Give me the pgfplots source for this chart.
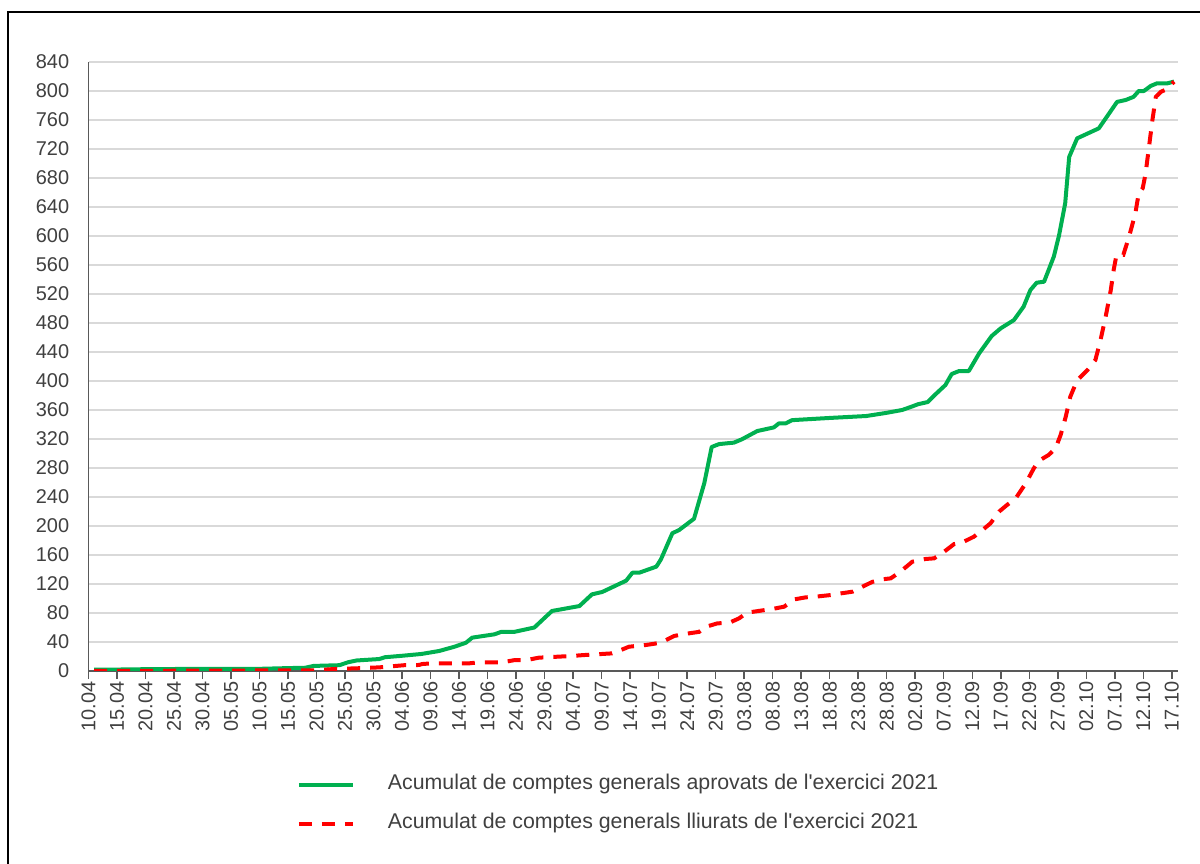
\documentclass[border=0pt]{standalone}
\usepackage{fontspec}
\setmainfont{Liberation Sans}
\usepackage{pgfplots}
\pgfplotsset{compat=1.18}

\definecolor{verd}{RGB}{0,176,80}
\definecolor{vermell}{RGB}{255,0,0}
\definecolor{graella}{RGB}{217,217,217}
\definecolor{eix}{RGB}{89,89,89}
\definecolor{textgris}{RGB}{64,64,64}

\begin{document}
\begin{tikzpicture}
\useasboundingbox (0,0) rectangle (600bp,432bp);
% marc de la figura
\draw[black, line width=1bp] (4bp,0) -- (4bp,426bp) -- (600bp,426bp);

\begin{axis}[
    at={(44.25bp,96.5bp)}, anchor=south west,
    scale only axis,
    width=544.5bp, height=304.5bp,
    xmin=0, xmax=191,
    ymin=0, ymax=840,
    xtick={0,5,...,190},
    xticklabels={10.04,15.04,20.04,25.04,30.04,05.05,10.05,15.05,20.05,25.05,30.05,04.06,09.06,14.06,19.06,24.06,29.06,04.07,09.07,14.07,19.07,24.07,29.07,03.08,08.08,13.08,18.08,23.08,28.08,02.09,07.09,12.09,17.09,22.09,27.09,02.10,07.10,12.10,17.10},
    ytick={0,40,...,840},
    ymajorgrids,
    grid style={graella, line width=0.75bp},
    axis x line*=bottom, axis y line*=left,
    axis line style={eix, line width=0.75bp},
    tick align=outside,
    major tick length=4bp,
    xtick style={eix, line width=0.75bp},
    ytick style={draw=none},
    /pgf/number format/assume math mode=true,
    /pgf/number format/1000 sep={},
    tick label style={font=\fontsize{10}{12}\selectfont, text=textgris},
    x tick label style={rotate=90, anchor=east, inner sep=1bp},
    y tick label style={anchor=east, inner sep=0pt, xshift=-5.5bp},
    legend image code/.code={\draw[#1] (0bp,0bp) -- (27bp,0bp);},
    legend cell align=left,
    legend style={
        at={(0.1856,-0.157)}, anchor=north west,
        draw=none, fill=none,
        font=\fontsize{10.7}{12}\selectfont, text=textgris,
        row sep=5.5bp, column sep=14.5bp,
        nodes={inner sep=2bp, text height=7.5bp, text depth=2.5bp},
    },
]

\addplot[verd, line width=2bp, line join=round] coordinates {
(1,2) (5,2) (10,2.5) (20,3) (30,3) (35,4) (38,4.5) (39.5,7) (44,8) (45.5,12)
(47,14.5) (50,16) (51,16.5) (52,19) (55,21) (58.4,23.5) (61.5,27.6) (64.2,33.5)
(66.2,39) (67.3,46) (71.2,50.6) (72.4,54) (74.7,54) (78.2,60) (79.9,72.6)
(81.3,82.8) (86.1,89.6) (88.3,105.7) (90.1,109) (94.3,124.6) (95.4,135.6)
(96.6,135.6) (99.6,144) (100.4,154) (102.4,190) (103.6,194.5) (106.2,210)
(108,259) (109.3,309) (110.6,313) (113.2,315) (114.6,319.6) (117.3,331)
(120.2,336) (121.1,341.6) (122.3,341.6) (123.4,346) (129.9,349) (136.4,351.7)
(139.9,356) (142.7,360) (144.5,365) (145.5,368) (147.2,371) (148.6,382)
(150.3,394.5) (151.4,409.7) (152.7,413.8) (154.4,413.8) (156.2,438) (158.4,462)
(160,472.7) (162.3,484) (164,502.5) (165.2,525.5) (166.3,535.6) (167.6,537)
(169.3,571.5) (170.2,600) (171.3,645) (172,709) (173.4,734.7) (177.2,748.5)
(179,769) (180.4,785) (181.9,787.6) (183.3,792) (184.2,800) (185.1,800)
(186.3,807) (187.4,810.6) (189.2,810.6) (190.4,813)
};
\addlegendentry{Acumulat de comptes generals aprovats de l\textquotesingle exercici 2021}

\addplot[vermell, line width=2bp, dash pattern=on 6.5bp off 5bp] coordinates {
(1,0) (40,1) (43,2.7) (47,3.7) (51,5) (55.4,8) (58,8.3) (58.5,9.6) (60.3,10.6)
(66.8,10.6) (68.5,12) (72.6,12) (74.7,15) (76.8,15) (79,18.4) (84.7,20.7)
(86.9,22) (91.8,24.3) (92.7,26.7) (94.8,33.5) (97.8,35.9) (100.4,39)
(102.7,48.3) (104.5,51) (107.1,54) (108.3,61) (110.3,65.7) (112.4,66.6)
(114.1,72.6) (115.5,80.5) (119.9,85.5) (122,88.7) (123.8,98.8) (125.8,101.6)
(127.5,102.5) (130.2,104.8) (131.9,107) (134,109.4) (135.4,115) (137.5,123)
(139.2,126.4) (140.7,127.8) (142.4,137) (144.5,150.8) (146.8,154.5)
(148.3,155.4) (149.7,162.3) (151.8,175) (153.3,177.5) (155.3,185.3)
(156.8,194.5) (158.2,203.7) (159.7,219.8) (161.1,229) (162.6,238) (164.4,259)
(165.8,279.6) (166.7,290) (168.4,298) (169.6,307) (170.5,325.5) (171.4,350.8)
(172.2,378.4) (173.4,401) (175.2,415) (176.6,429) (177.5,456.6) (178.4,488.7)
(179.3,525.5) (179.8,553) (180.3,574) (181.5,574) (182.5,599) (183.6,631)
(184.2,659) (184.9,666) (185.4,686) (186,723) (186.6,760) (187.2,792)
(188.1,799) (189,802) (190.4,813)
};
\addlegendentry{Acumulat de comptes generals lliurats de l\textquotesingle exercici 2021}
\end{axis}
\end{tikzpicture}
\end{document}
